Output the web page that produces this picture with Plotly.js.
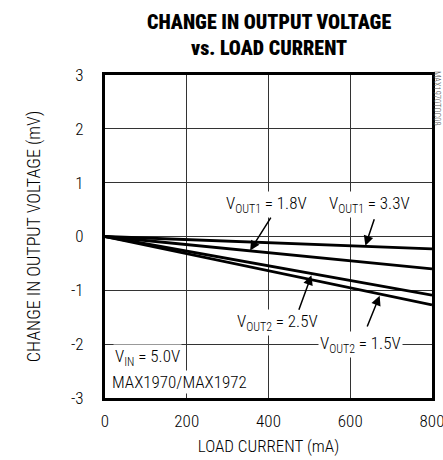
<!DOCTYPE html>
<html>
<head>
<meta charset="utf-8">
<script src="https://cdn.plot.ly/plotly-3.0.1.min.js"></script>
<style>html,body{margin:0;padding:0;background:#fff;}#chart{width:443px;height:460px;}</style>
</head>
<body>
<div id="chart"></div>
<script>
// ---- data ----
const loadCurrent = [0, 800];                 // mA
const vout1_33 = [0, -0.23];                  // mV, VOUT1 = 3.3V
const vout1_18 = [0, -0.60];                  // mV, VOUT1 = 1.8V
const vout2_25 = [0, -1.09];                  // mV, VOUT2 = 2.5V
const vout2_15 = [0, -1.27];                  // mV, VOUT2 = 1.5V
const xTicks = [0, 200, 400, 600, 800];
const yTicks = [-3, -2, -1, 0, 1, 2, 3];

const FONT = '"Roboto Condensed", "Liberation Sans Narrow", "DejaVu Sans Condensed", sans-serif';
const lineStyle = {color: '#000', width: 2.8};

const traces = [vout1_33, vout1_18, vout2_25, vout2_15].map(v => ({
  x: loadCurrent, y: v, type: 'scatter', mode: 'lines', line: lineStyle,
  hoverinfo: 'skip', showlegend: false
}));

function label(text, x, y) {
  return {text: text, x: x, y: y, xref: 'x', yref: 'y', showarrow: false,
    xanchor: 'center', yanchor: 'middle', bgcolor: '#fff', borderpad: 1,
    font: {family: FONT, size: 17, color: '#000', weight: 300}};
}
function arrow(tx, ty, hx, hy) {
  return {text: '', x: hx, y: hy, ax: tx, ay: ty, xref: 'x', yref: 'y', axref: 'x', ayref: 'y',
    showarrow: true, arrowhead: 2, arrowsize: 1.3, arrowwidth: 1.5, arrowcolor: '#000', standoff: 0};
}

const annotations = [
  {text: 'CHANGE IN OUTPUT VOLTAGE', xref: 'paper', yref: 'paper', x: 0.5, y: 1.164,
   xanchor: 'center', yanchor: 'middle', showarrow: false,
   font: {family: FONT, size: 20, color: '#000', weight: 900}},
  {text: 'vs. LOAD CURRENT', xref: 'paper', yref: 'paper', x: 0.5, y: 1.084,
   xanchor: 'center', yanchor: 'middle', showarrow: false,
   font: {family: FONT, size: 20, color: '#000', weight: 900}},
  label('V<sub>OUT1</sub> = 1.8V', 396, 0.60),
  label('V<sub>OUT1</sub> = 3.3V', 646, 0.60),
  label('V<sub>OUT2</sub> = 2.5V', 423, -1.59),
  label('V<sub>OUT2</sub> = 1.5V', 626, -2.0),
  label('V<sub>IN</sub> = 5.0V', 105, -2.24),
  label('MAX1970/MAX1972', 183, -2.70),
  arrow(408, 0.38, 355, -0.26),
  arrow(660, 0.35, 637, -0.17),
  arrow(473, -1.39, 505, -0.72),
  arrow(640, -1.70, 672, -1.10),
  {text: 'MAX1970TOC08', xref: 'paper', yref: 'paper', x: 1.0153, y: 0.929,
   xanchor: 'center', yanchor: 'middle', textangle: 90, showarrow: false, borderpad: 0,
   font: {family: FONT, size: 8.5, color: '#555', weight: 300}}
];

const axisCommon = {
  showline: true, linecolor: '#000', linewidth: 3, mirror: true,
  showgrid: true, gridcolor: '#333', gridwidth: 1, zeroline: false,
  ticks: '', ticklabeloverflow: 'allow',
  tickfont: {family: FONT, size: 17, color: '#000', weight: 300}
};

const layout = {
  width: 443, height: 460,
  margin: {l: 105, r: 11, t: 75, b: 62},
  paper_bgcolor: '#fff', plot_bgcolor: '#fff',
  font: {family: FONT, color: '#000'},
  xaxis: Object.assign({}, axisCommon, {
    range: [0, 800], tickvals: xTicks, ticktext: xTicks.map(String), ticklabelstandoff: 6,
    title: {text: 'LOAD CURRENT (mA)', font: {family: FONT, size: 17, color: '#000', weight: 300}, standoff: 10}
  }),
  yaxis: Object.assign({}, axisCommon, {
    range: [-3, 3], tickvals: yTicks, ticktext: yTicks.map(String), ticklabelstandoff: 15,
    title: {text: 'CHANGE IN OUTPUT VOLTAGE (mV)', font: {family: FONT, size: 18, color: '#000', weight: 300}, standoff: 26}
  }),
  annotations: annotations
};

Plotly.newPlot('chart', traces, layout, {staticPlot: true, displayModeBar: false});
</script>
</body>
</html>
